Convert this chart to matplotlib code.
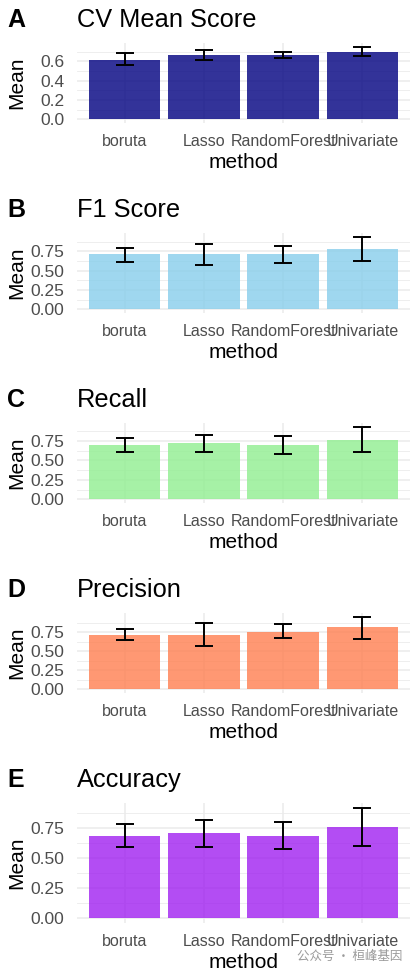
import matplotlib.pyplot as plt
import numpy as np

plt.rcParams['font.family'] = ['Liberation Sans', 'DejaVu Sans']

methods = ['boruta', 'Lasso', 'RandomForest', 'Univariate']

panel_letters = ['A', 'B', 'C', 'D', 'E']
panel_titles = ['CV Mean Score', 'F1 Score', 'Recall', 'Precision', 'Accuracy']

cv_mean = [0.618, 0.664, 0.664, 0.695]
cv_lo = [0.558, 0.611, 0.635, 0.653]
cv_hi = [0.688, 0.717, 0.695, 0.752]

f1_mean = [0.715, 0.715, 0.715, 0.776]
f1_lo = [0.618, 0.573, 0.604, 0.631]
f1_hi = [0.790, 0.847, 0.820, 0.940]

recall_mean = [0.693, 0.719, 0.693, 0.759]
recall_lo = [0.604, 0.604, 0.587, 0.604]
recall_hi = [0.785, 0.829, 0.812, 0.935]

prec_mean = [0.719, 0.719, 0.759, 0.8125]
prec_lo = [0.652, 0.571, 0.670, 0.665]
prec_hi = [0.790, 0.871, 0.857, 0.955]

acc_mean = [0.684, 0.704, 0.684, 0.756]
acc_lo = [0.589, 0.589, 0.572, 0.598]
acc_hi = [0.784, 0.816, 0.802, 0.911]

means = [cv_mean, f1_mean, recall_mean, prec_mean, acc_mean]
lows = [cv_lo, f1_lo, recall_lo, prec_lo, acc_lo]
highs = [cv_hi, f1_hi, recall_hi, prec_hi, acc_hi]

colors = ['navy', 'skyblue', 'lightgreen', 'coral', '#A020F0']

W, H = 416, 973
fig = plt.figure(figsize=(W / 100, H / 100), dpi=100)

# panel blocks (pixels from top): block offset, axes height
offsets = [0, 190, 380, 570, 760]
heights = [80, 80, 80, 80, 120]
ax_left, ax_right = 77, 410

for i in range(5):
    off = offsets[i]
    top = off + 43
    bot = top + heights[i]
    ax = fig.add_axes([ax_left / W, 1 - bot / H, (ax_right - ax_left) / W, heights[i] / H])

    x = np.arange(len(methods))
    m = np.array(means[i])
    lo = np.array(lows[i])
    hi = np.array(highs[i])

    ax.bar(x, m, width=0.9, color=colors[i], alpha=0.8, zorder=2)
    ax.errorbar(x, m, yerr=[m - lo, hi - m], fmt='none', ecolor='black',
                elinewidth=1.4, capsize=6.5, capthick=1.4, zorder=3)

    ymax = hi.max()
    ax.set_ylim(-0.05 * ymax, 1.05 * ymax)
    ax.set_xlim(-0.6, len(methods) - 0.4)

    if i == 0:
        ax.set_yticks([0, 0.2, 0.4, 0.6])
        ax.set_yticklabels(['0.0', '0.2', '0.4', '0.6'])
        ax.set_yticks([0.1, 0.3, 0.5, 0.7], minor=True)
    else:
        ax.set_yticks([0, 0.25, 0.5, 0.75])
        ax.set_yticklabels(['0.00', '0.25', '0.50', '0.75'])
        ax.set_yticks([0.125, 0.375, 0.625, 0.875], minor=True)

    ax.set_xticks(x)
    ax.set_xticklabels(methods)

    ax.grid(True, which='major', color='#EBEBEB', linewidth=1.1, zorder=0)
    ax.grid(True, which='minor', axis='y', color='#EBEBEB', linewidth=0.6, zorder=0)
    ax.set_axisbelow(True)
    for s in ax.spines.values():
        s.set_visible(False)
    ax.tick_params(axis='both', which='both', length=0)
    ax.tick_params(axis='y', labelsize=12.5, labelcolor='#4D4D4D', pad=9)
    ax.tick_params(axis='x', labelsize=11.5, labelcolor='#4D4D4D', pad=8)

    ax.set_xlabel('method', fontsize=15, labelpad=3)
    ax.set_ylabel('Mean', fontsize=15, va='center')
    # all "Mean" labels line up at the same figure x, as in the reference
    ax.yaxis.set_label_coords((17 - ax_left) / (ax_right - ax_left), 0.5)

    fig.text(7 / W, 1 - (off + 27) / H, panel_letters[i], fontsize=18,
             fontweight='bold', va='baseline', ha='left')
    fig.text(77 / W, 1 - (off + 27) / H, panel_titles[i], fontsize=18.3,
             va='baseline', ha='left')

# watermark
fig.text(402 / W, 1 - 960 / H, '公众号 · 桓峰基因', fontsize=9, color='#9A9A9A',
         ha='right', va='baseline', family=['Noto Sans CJK SC', 'DejaVu Sans'])

plt.savefig('out.png', dpi=100)
